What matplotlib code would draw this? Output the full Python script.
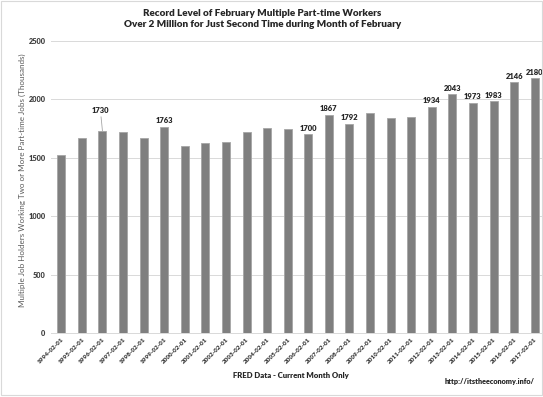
import matplotlib
matplotlib.use("Agg")
import matplotlib.pyplot as plt
from matplotlib.patches import Rectangle

dates = ["1994-02-01", "1995-02-01", "1996-02-01", "1997-02-01", "1998-02-01",
         "1999-02-01", "2000-02-01", "2001-02-01", "2002-02-01", "2003-02-01",
         "2004-02-01", "2005-02-01", "2006-02-01", "2007-02-01", "2008-02-01",
         "2009-02-01", "2010-02-01", "2011-02-01", "2012-02-01", "2013-02-01",
         "2014-02-01", "2015-02-01", "2016-02-01", "2017-02-01"]
values = [1524, 1667, 1730, 1721, 1670, 1763, 1601, 1627, 1635, 1721,
          1752, 1743, 1700, 1867, 1792, 1883, 1838, 1852, 1934, 2043,
          1973, 1983, 2146, 2180]
labeled = ["1996-02-01", "1999-02-01", "2006-02-01", "2007-02-01", "2008-02-01",
           "2012-02-01", "2013-02-01", "2014-02-01", "2015-02-01", "2016-02-01",
           "2017-02-01"]
yticks = [0, 500, 1000, 1500, 2000, 2500]

title = "Record Level of February Multiple Part-time Workers\nOver 2 Million for Just Second Time during Month of February"
xlabel = "FRED Data - Current Month Only"
ylabel = "Multiple Job Holders Working Two or More Part-time Jobs (Thousands)"
source = "http://itstheeconomy.info/"

plt.rcParams['font.family'] = ['Lato', 'DejaVu Sans']

fig = plt.figure(figsize=(5.43, 3.97), dpi=100)
ax = fig.add_axes([51/543, 1 - 333/397, 494/543, (333 - 41)/397])

x = list(range(len(dates)))
ax.bar(x, values, width=0.39, color="#7f7f7f", edgecolor="#a6a6a6", linewidth=0.6, zorder=3)
ax.set_xlim(-0.5, len(dates) - 0.5)
ax.set_ylim(0, 2500)
ax.set_yticks(yticks)
ax.set_yticklabels([str(t) for t in yticks], fontsize=5.3, color="#404040", fontweight="heavy")
ax.set_xticks(x)
ax.set_xticklabels(dates, rotation=45, ha="right", va="top", rotation_mode="anchor",
                   fontsize=4.6, color="#404040", fontweight="heavy")
ax.tick_params(axis="y", length=0, pad=4)
ax.tick_params(axis="x", length=0, pad=3)
ax.grid(axis="y", color="#d9d9d9", linewidth=0.7, zorder=0)
for s in ["top", "right", "left"]:
    ax.spines[s].set_visible(False)
ax.spines["bottom"].set_color("#d9d9d9")
ax.spines["bottom"].set_linewidth(0.7)

for i, (d, v) in enumerate(zip(dates, values)):
    if d in labeled:
        if d == "1996-02-01":
            ax.annotate(str(v), xy=(i, v), xytext=(i - 0.1, v + 145), ha="center", va="bottom",
                        fontsize=5.5, fontweight="heavy", color="#262626",
                        arrowprops=dict(arrowstyle="-", color="#a6a6a6", linewidth=0.6, shrinkA=0, shrinkB=0))
        else:
            ax.annotate(str(v), xy=(i, v), xytext=(0, 2), textcoords="offset points",
                        ha="center", va="bottom", fontsize=5.5, fontweight="heavy", color="#262626")

fig.text(0.483, 0.978, title, ha="center", va="top", fontsize=7.1, fontweight="heavy",
         color="#262626", linespacing=1.3)
fig.text(0.042, 0.545, ylabel, rotation=90, ha="center", va="center", fontsize=5.8, color="#595959")
fig.text(0.535, 0.053, xlabel, ha="center", va="center", fontsize=5.6, fontweight="heavy", color="#262626")
fig.text(0.985, 0.038, source, ha="right", va="center", fontsize=5.2, fontweight="heavy", color="#262626")

fig.patches.append(Rectangle((0.002, 0.005), 0.996, 0.993, transform=fig.transFigure,
                             fill=False, edgecolor="#d9d9d9", linewidth=0.8))

fig.savefig("out.png", dpi=100)
